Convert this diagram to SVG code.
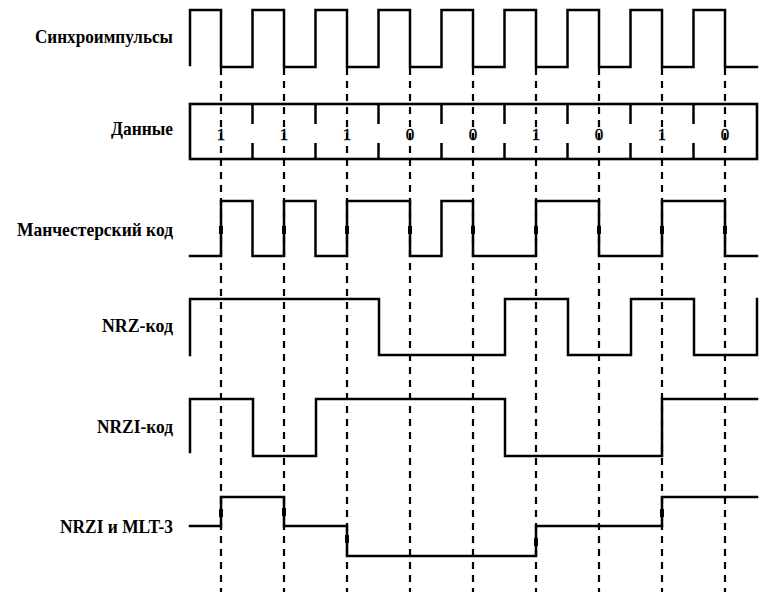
<svg xmlns="http://www.w3.org/2000/svg" width="778" height="592" viewBox="0 0 778 592">
<style>
.bg{fill:#fff}
.sig{fill:none;stroke:#000;stroke-width:2.5;stroke-linejoin:miter;stroke-linecap:square}
.dash{fill:none;stroke:#000;stroke-width:2.2;stroke-dasharray:7 6}
.tick{stroke:#000;stroke-width:2.5}
.lbl{font-family:"Liberation Serif","Times New Roman",serif;font-weight:bold;font-size:19px;text-anchor:end;fill:#000}
.dig{font-family:"Liberation Serif","Times New Roman",serif;font-size:17px;text-anchor:middle;fill:#000;stroke:#000;stroke-width:0.4}
.mk{fill:#000}
</style>
<rect class="bg" x="0" y="0" width="778" height="592"/>
<g id="labels">
<text class="lbl" x="173" y="43" textLength="138" lengthAdjust="spacingAndGlyphs">Синхроимпульсы</text>
<text class="lbl" x="173" y="135" textLength="62" lengthAdjust="spacingAndGlyphs">Данные</text>
<text class="lbl" x="173" y="236" textLength="156" lengthAdjust="spacingAndGlyphs">Манчестерский код</text>
<text class="lbl" x="173" y="332" textLength="71" lengthAdjust="spacingAndGlyphs">NRZ-код</text>
<text class="lbl" x="173" y="433" textLength="76" lengthAdjust="spacingAndGlyphs">NRZI-код</text>
<text class="lbl" x="173" y="533" textLength="113" lengthAdjust="spacingAndGlyphs">NRZI и MLT-3</text>
</g>
<g id="connectors">
<path class="dash" d="M221,68V592M284,68V592M347,68V592M410,68V592M473,68V592M536,68V592M599,68V592M662,68V592M725,68V592"/>
</g>
<g id="clock">
<path class="sig" d="M190,65V10H221V67H252.5V10H284V67H315.5V10H347V67H378.5V10H410V67H441.5V10H473V67H504.5V10H536V67H567.5V10H599V67H630.5V10H662V67H693.5V10H725V67H757"/>
</g>
<g id="data">
<rect x="190" y="104" width="567" height="55" fill="none" stroke="#000" stroke-width="2.6"/>
<path class="tick" d="M252.5,104V124M252.5,143V159M315.5,104V124M315.5,143V159M378.5,104V124M378.5,143V159M441.5,104V124M441.5,143V159M504.5,104V124M504.5,143V159M567.5,104V124M567.5,143V159M630.5,104V124M630.5,143V159M693.5,104V124M693.5,143V159"/>
<text class="dig" x="221" y="139.5">1</text>
<text class="dig" x="284" y="139.5">1</text>
<text class="dig" x="347" y="139.5">1</text>
<text class="dig" x="410" y="139.5">0</text>
<text class="dig" x="473" y="139.5">0</text>
<text class="dig" x="536" y="139.5">1</text>
<text class="dig" x="599" y="139.5">0</text>
<text class="dig" x="662" y="139.5">1</text>
<text class="dig" x="725" y="139.5">0</text>
</g>
<g id="manchester">
<path class="sig" d="M190,256H221V201H252.5V256H284V201H315.5V256H347V201H410V256H441.5V201H473V256H536V201H599V256H662V201H725V256H757"/>
<path class="mk" d="M219,226h4v8h-4zM282,226h4v8h-4zM345,226h4v8h-4zM408,226h4v8h-4zM471,226h4v8h-4zM534,226h4v8h-4zM597,226h4v8h-4zM660,226h4v8h-4zM723,226h4v8h-4z"/>
</g>
<g id="nrz">
<path class="sig" d="M190,355V299H379V355H505V299H568V355H631V299H694V355H757V299"/>
</g>
<g id="nrzi">
<path class="sig" d="M190,452V399H253V456H316V399H505V456H662V399H757"/>
</g>
<g id="mlt3">
<path class="sig" d="M190,526H221V497H284V526H347V556H536V526H662V497H757"/>
<path class="mk" d="M219,509h4v8h-4zM282,508h4v8h-4zM345,535h4v8h-4zM534,538h4v8h-4zM660,509h4v8h-4z"/>
</g>
</svg>
